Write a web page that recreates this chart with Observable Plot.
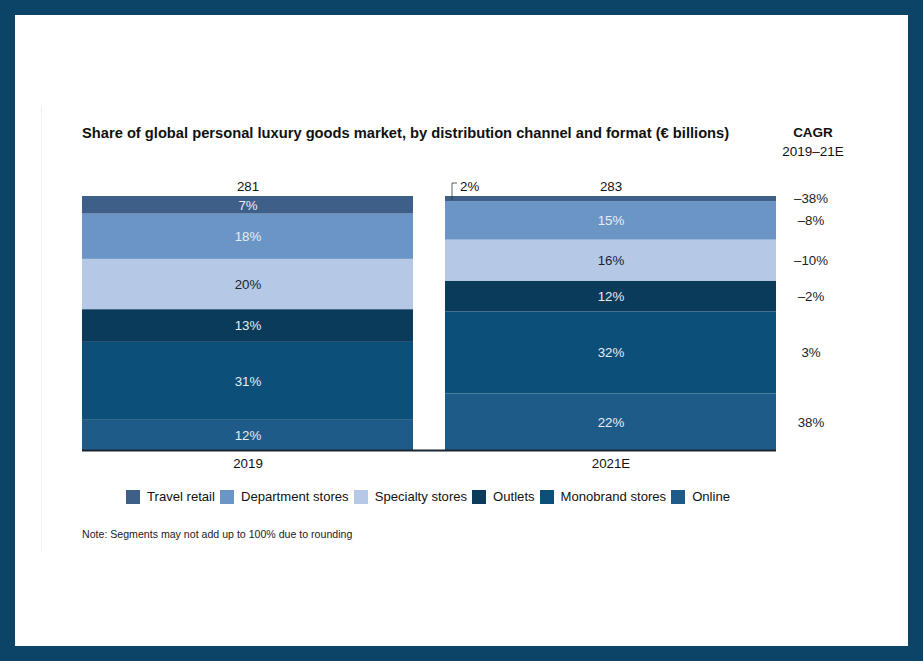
<!DOCTYPE html>
<html>
<head>
<meta charset="utf-8">
<script src="https://cdn.jsdelivr.net/npm/d3@7"></script>
<script src="https://cdn.jsdelivr.net/npm/@observablehq/plot@0.6"></script>
<style>
  html, body { margin: 0; padding: 0; }
  body { width: 923px; height: 661px; background: #0b4466; position: relative; overflow: hidden;
         font-family: "Liberation Sans", Arial, sans-serif; color: #111; }
  #panel { position: absolute; left: 15px; top: 15px; width: 893px; height: 631px; background: #fff; }
  #vline { position: absolute; left: 41px; top: 105px; width: 1px; height: 447px; background: #eeeeee; }
  #title { position: absolute; left: 82px; top: 125px; font-size: 14.7px; font-weight: bold; white-space: nowrap; }
  #cagr { position: absolute; left: 763px; width: 100px; top: 123px; text-align: center; font-size: 13.5px; line-height: 19px; }
  #cagr b { display: block; }
  #chart { position: absolute; left: 0; top: 160px; }
  #legend { position: absolute; left: 0; width: 856px; top: 489px; text-align: center; font-size: 13.1px; white-space: nowrap; }
  .item { display: inline-flex; align-items: center; margin: 0 2.5px; }
  .sw { width: 14px; height: 14px; display: inline-block; margin-right: 7px; }
  #note { position: absolute; left: 82px; top: 528px; font-size: 10.6px; color: #222; }
</style>
</head>
<body>
<div id="panel"></div>
<div id="vline"></div>
<div id="title">Share of global personal luxury goods market, by distribution channel and format (€ billions)</div>
<div id="cagr"><b>CAGR</b>2019–21E</div>
<div id="chart"></div>
<div id="legend"></div>
<div id="note">Note: Segments may not add up to 100% due to rounding</div>
<script>
// ---- data (bottom of stack first) ----
const years = ["2019", "2021E"];
const channels = ["Online", "Monobrand stores", "Outlets", "Specialty stores", "Department stores", "Travel retail"];
const share2019 = [12, 31, 13, 20, 18, 7];
const share2021 = [22, 32, 12, 16, 15, 2];
const totals = [281, 283];
const cagr = ["38%", "3%", "–2%", "–10%", "–8%", "–38%"];
const colors = ["#1f5b88", "#0c4f79", "#0a3b5b", "#b5c9e6", "#6b95c5", "#3e5f88"];
const legendOrder = ["Travel retail", "Department stores", "Specialty stores", "Outlets", "Monobrand stores", "Online"];

const rows = [];
years.forEach((y, yi) => {
  const vals = yi === 0 ? share2019 : share2021;
  channels.forEach((c, ci) => rows.push({year: y, channel: c, value: vals[ci], cagr: cagr[ci]}));
});
const rows2021 = rows.filter(d => d.year === "2021E");
const totalRows = years.map((y, i) => ({year: y, total: totals[i]}));
const callout = rows.filter(d => d.year === "2021E" && d.channel === "Travel retail");

const FS = 13.3;
const W = 923, H = 320;
const plot = Plot.plot({
  width: W, height: H,
  marginTop: 36, marginBottom: 30, marginLeft: 82, marginRight: 147,
  x: {domain: years, paddingInner: 0.0882, paddingOuter: 0, label: null},
  y: {domain: [0, 1], axis: null},
  color: {domain: channels, range: colors},
  style: {fontFamily: "'Liberation Sans', Arial, sans-serif", fontSize: FS + "px", color: "#111", background: "transparent", overflow: "visible"},
  marks: [
    Plot.barY(rows, Plot.stackY({offset: "normalize", x: "year", y: "value", fill: "channel"})),
    Plot.text(rows, Plot.stackY({offset: "normalize", x: "year", y: "value",
      text: d => (d.year === "2021E" && d.channel === "Travel retail") ? "" : d.value + "%",
      fill: d => d.channel === "Specialty stores" ? "#1a2233" : "#e6edf6",
      fontSize: FS})),
    // CAGR column
    Plot.text(rows2021, Plot.stackY({offset: "normalize", x: "year", y: "value", text: "cagr",
      dx: 200, fill: "#222", fontSize: FS})),
    // totals
    Plot.text(totalRows, {x: "year", y: () => 1, text: d => String(d.total), dy: -10, fill: "#111", fontSize: FS}),
    // 2% callout
    Plot.text(callout, {x: "year", y: () => 1, text: d => d.value + "%", dx: -151, dy: -10, textAnchor: "start", fill: "#111", fontSize: FS}),
    Plot.rect(callout, {x: "year", y1: () => 1.051, y2: () => 0.984, insetLeft: 7, insetRight: 319,
      fill: "none", stroke: "#333", strokeWidth: 0.8, strokeDasharray: "5 22 17 0"}),
    Plot.ruleY([0], {stroke: "#1a2533", strokeWidth: 2}),
    Plot.axisX({tickSize: 0, tickPadding: 8, fontSize: FS, label: null})
  ]
});
document.getElementById("chart").appendChild(plot);

// legend
const lg = document.getElementById("legend");
legendOrder.forEach(name => {
  const it = document.createElement("span");
  it.className = "item";
  const sw = document.createElement("span");
  sw.className = "sw";
  sw.style.background = colors[channels.indexOf(name)];
  it.appendChild(sw);
  it.appendChild(document.createTextNode(name));
  lg.appendChild(it);
});
</script>
</body>
</html>
